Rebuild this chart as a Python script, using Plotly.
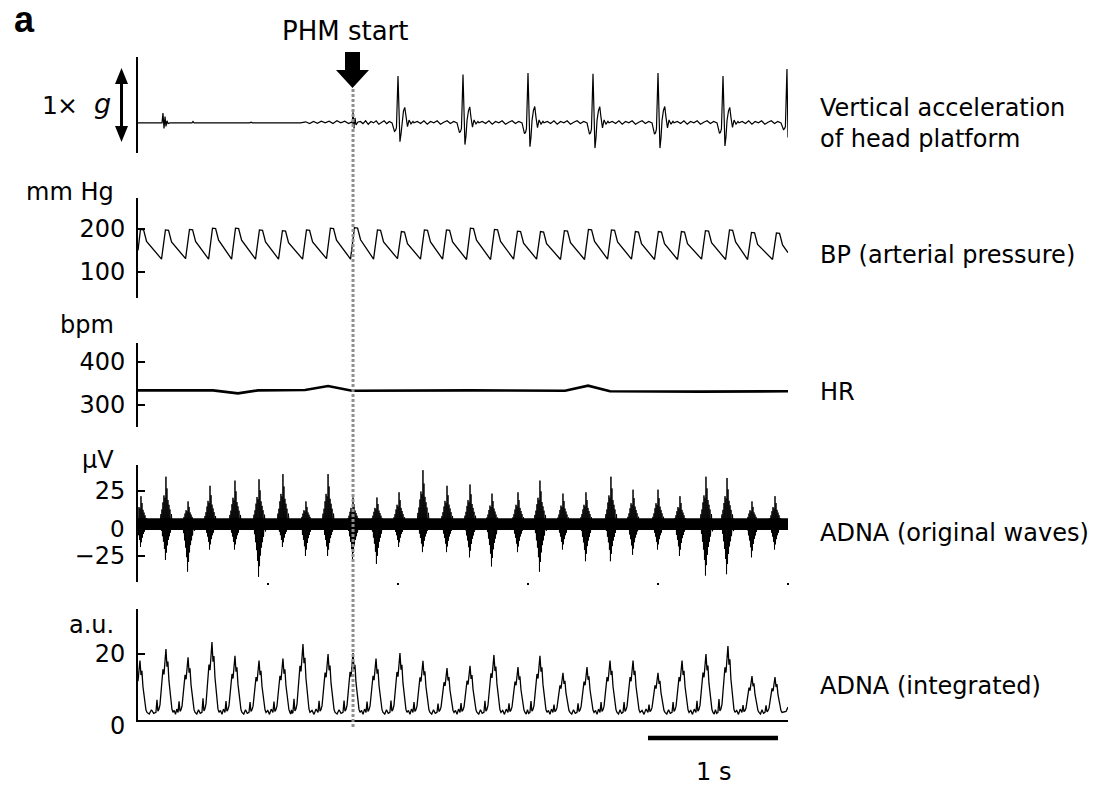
import plotly.graph_objects as go

W, H = 1096, 785
FONT = "DejaVu Sans"
FS = 24

# ======================= DATA (time in s) =======================
T_END = 5.0            # length of record shown (s)
PHM_START = 1.654      # PHM start marker (s)
SCALE_BAR_START = 3.923
SCALE_BAR_LEN = 1.0    # 1 s

# ---- Vertical acceleration of head platform (g) ----
accel_pre_t = [0.000, 0.185, 0.192, 0.200, 0.208, 0.215, 0.223, 0.231, 0.246, 0.415,
               0.423, 0.431, 0.860, 0.870, 0.880, 1.250, 1.290, 1.320, 1.350, 1.380,
               1.410, 1.440, 1.470, 1.500, 1.530, 1.560, 1.590, 1.620, 1.640, 1.648,
               1.654, 1.662, 1.669, 1.677, 1.690]
accel_pre_v = [0.00, 0.00, 0.14, -0.08, 0.09, -0.05, 0.03, -0.01, 0.00, 0.00,
               0.02, 0.00, 0.00, 0.01, 0.00, 0.00, 0.015, -0.01, 0.02, -0.005,
               0.025, 0.00, 0.025, -0.01, 0.03, 0.00, 0.025, -0.01, 0.01, 0.00,
               0.15, -0.08, 0.07, -0.03, 0.01]
accel_spike_t = [2.000, 2.500, 3.000, 3.500, 4.000, 4.500, 4.992]
accel_spike_up = [0.67, 0.69, 0.71, 0.70, 0.71, 0.67, 0.77]
accel_spike_down = [-0.27, -0.31, -0.34, -0.36, -0.36, -0.33, -0.21]
accel_ripple = [0.02, -0.01, 0.03, -0.02, 0.02, 0.00, 0.03, -0.02, 0.01, 0.03, -0.01, 0.02]
accel_end_v = -0.21

# ---- BP (arterial pressure, mm Hg) ----
bp_peak_t = [0.031, 0.223, 0.408, 0.585, 0.762, 0.946, 1.123, 1.308, 1.492, 1.677,
             1.854, 2.038, 2.215, 2.385, 2.569, 2.754, 2.931, 3.108, 3.292, 3.477,
             3.654, 3.838, 4.015, 4.192, 4.377, 4.562, 4.731, 4.923]
bp_peak = [199, 198, 199, 202, 202, 198, 196, 198, 202, 203,
           198, 194, 198, 198, 202, 199, 195, 194, 196, 199,
           198, 194, 194, 194, 196, 198, 192, 191]
bp_trough = [150, 130, 131, 130, 130, 130, 130, 130, 131, 130,   # first = value at t=0
             130, 131, 130, 130, 129, 129, 130, 130, 129, 129,
             130, 130, 129, 129, 130, 129, 129, 129]
bp_notch_drop = 28
bp_end_v = 145

# ---- HR (bpm) ----
hr_t = [0.000, 0.577, 0.769, 0.923, 1.285, 1.462, 1.646, 2.015, 2.554, 3.285, 3.462, 3.631, 4.323, 5.000]
hr_v = [334, 334, 327, 334, 335, 344, 333, 334, 334, 333, 345, 332, 331, 332]

# ---- ADNA original waves (uV) ----
adna_t = [0.023, 0.215, 0.385, 0.554, 0.746, 0.931, 1.115, 1.292, 1.462, 1.654,
          1.838, 2.008, 2.192, 2.377, 2.554, 2.723, 2.923, 3.092, 3.269, 3.446,
          3.638, 3.808, 4.000, 4.169, 4.369, 4.531, 4.723, 4.900]
adna_up = [21, 36, 17, 29, 33, 34, 38, 17, 38, 20,
           20, 24, 41, 29, 30, 23, 24, 33, 23, 24,
           36, 26, 26, 21, 36, 35, 17, 21]
adna_down = [-18, -28, -37, -20, -20, -41, -18, -25, -25, -28,
             -31, -18, -22, -22, -26, -33, -22, -37, -20, -29,
             -29, -24, -20, -25, -40, -39, -26, -20]
adna_noise_hi = 4.0
adna_noise_lo = -5.0

# ---- ADNA integrated (a.u.) ----
int_t = [0.015, 0.215, 0.385, 0.569, 0.746, 0.931, 1.115, 1.269, 1.462, 1.654,
         1.831, 2.015, 2.192, 2.377, 2.554, 2.738, 2.923, 3.092, 3.269, 3.454,
         3.631, 3.808, 4.000, 4.185, 4.369, 4.538, 4.723, 4.900]
int_peak = [18.0, 21.5, 19.0, 23.6, 19.4, 18.0, 18.6, 23.0, 20.0, 20.3,
            18.6, 20.3, 17.9, 15.7, 16.4, 19.7, 16.0, 19.4, 14.3, 16.0,
            18.0, 18.0, 14.3, 18.0, 20.0, 22.4, 13.3, 13.0]
int_base = 2.3
int_ripple = [1.8, 3.1, 2.0, 2.9, 1.7, 3.3]
int_tail_t = [4.985, 5.000]
int_tail_v = [2.6, 3.9]

# ======================= waveform shapes (per event) =======================
SPIKE_DT = [-0.046, -0.035, -0.027, -0.019, -0.012, 0.000, 0.008, 0.015, 0.023, 0.031,
            0.042, 0.052, 0.062, 0.073, 0.085, 0.100, 0.115, 0.123]
SPIKE_A = [0, 0, 0, 0, 0, 1, 0.3, 0, 0, 0.05, 0.25, 0.33, 0.1, 0, 0.06, 0, 0.03, 0]
SPIKE_B = [0, 0.2, 0.45, 0.4, 0.25, 0, 0, 1, 0.6, 0, 0, 0, 0, 0.2, 0, 0.05, 0, 0]

BURST_DT = [-0.045, -0.0385, -0.0346, -0.0308, -0.0269, -0.0231, -0.0192, -0.0154, -0.0115,
            -0.0077, -0.0038, 0.0, 0.0038, 0.0077, 0.0115, 0.0154, 0.0192, 0.0231, 0.0269,
            0.0308, 0.0346, 0.0423, 0.050, 0.057]
BURST_W = [0, 0.2, -0.2, 0.3, -0.35, 0.45, -0.5, 0.6, -0.7, 0.55, -1.0, 1.0, -0.8, 0.75,
           -0.6, 0.5, -0.45, 0.4, -0.35, 0.3, -0.25, 0.2, -0.15, 0]

IBURST_DT = [-0.077, -0.069, -0.062, -0.054, -0.046, -0.038, -0.031, -0.023, -0.015, -0.008,
             0.0, 0.008, 0.015, 0.023, 0.031, 0.038, 0.046, 0.054]
IBURST_W = [0.0, 0.2, 0.02, 0.05, 0.12, 0.3, 0.55, 0.68, 0.6, 0.88, 1.0, 0.72, 0.8, 0.5,
            0.3, 0.12, 0.05, 0.0]


def build_accel():
    xs, ys = list(accel_pre_t), list(accel_pre_v)
    prev_end = accel_pre_t[-1]
    for c, u, d in zip(accel_spike_t, accel_spike_up, accel_spike_down):
        start = c + SPIKE_DT[0]
        n = len(accel_ripple)
        for k in range(n):
            xs.append(prev_end + (k + 1) * (start - prev_end) / (n + 1))
            ys.append(accel_ripple[k])
        for dt, a, b in zip(SPIKE_DT, SPIKE_A, SPIKE_B):
            t = c + dt
            if t < T_END:
                xs.append(t)
                ys.append(a * u + b * d)
        prev_end = c + SPIKE_DT[-1]
    xs.append(T_END)
    ys.append(accel_end_v)
    return xs, ys


def build_bp():
    xs, ys = [0.0], [bp_trough[0]]
    for i, (c, p) in enumerate(zip(bp_peak_t, bp_peak)):
        if i > 0:
            xs.append(c - 0.042); ys.append(bp_trough[i])
        xs += [c - 0.012, c + 0.012, c + 0.035]
        ys += [p, p - 1, p - bp_notch_drop]
    xs.append(T_END); ys.append(bp_end_v)
    return xs, ys


def build_adna():
    xs, ys = [0.0], [0.0]
    for c, u, d in zip(adna_t, adna_up, adna_down):
        for dt, w in zip(BURST_DT, BURST_W):
            t = c + dt
            if 0 <= t <= T_END:
                xs.append(t)
                ys.append(w * u if w > 0 else -w * d)
    xs.append(T_END); ys.append(0.0)
    return xs, ys


def build_int():
    xs, ys = [], []
    n = len(int_t)
    for i, (c, p) in enumerate(zip(int_t, int_peak)):
        for dt, w in zip(IBURST_DT, IBURST_W):
            t = c + dt
            if 0 <= t <= T_END:
                xs.append(t)
                ys.append(int_base + w * (p - int_base))
        if i < n - 1:
            a = c + IBURST_DT[-1]
            b = int_t[i + 1] + IBURST_DT[0]
            for k in range(3):
                xs.append(a + (k + 1) * (b - a) / 4)
                ys.append(int_ripple[(3 * i + k) % len(int_ripple)])
    xs += int_tail_t
    ys += int_tail_v
    return xs, ys


# ======================= FIGURE =======================
fig = go.Figure()
# empty trace so the tick-only axis under the ADNA panel is created (added first, drawn below)
fig.add_trace(go.Scatter(x=[], y=[], xaxis="x2", yaxis="y4", hoverinfo="skip"))
ax, ay = build_accel()
fig.add_trace(go.Scatter(x=ax, y=ay, mode="lines", line=dict(color="black", width=1.2),
                         xaxis="x", yaxis="y", hoverinfo="skip"))
bx, by = build_bp()
fig.add_trace(go.Scatter(x=bx, y=by, mode="lines", line=dict(color="black", width=1.3),
                         xaxis="x", yaxis="y2", hoverinfo="skip"))
fig.add_trace(go.Scatter(x=hr_t, y=hr_v, mode="lines", line=dict(color="black", width=2.6),
                         xaxis="x", yaxis="y3", hoverinfo="skip"))
fig.add_trace(go.Scatter(x=[0, T_END, T_END, 0, 0],
                         y=[adna_noise_lo, adna_noise_lo, adna_noise_hi, adna_noise_hi, adna_noise_lo],
                         mode="lines", fill="toself", fillcolor="black", line=dict(width=0, color="black"),
                         xaxis="x", yaxis="y4", hoverinfo="skip"))
dx, dy = build_adna()
fig.add_trace(go.Scatter(x=dx, y=dy, mode="lines", line=dict(color="black", width=1.0),
                         xaxis="x", yaxis="y4", hoverinfo="skip"))
ix, iy = build_int()
fig.add_trace(go.Scatter(x=ix, y=iy, mode="lines", line=dict(color="black", width=1.3),
                         xaxis="x", yaxis="y5", hoverinfo="skip"))


def px_x(px):
    return px / W


def px_y(py):
    return 1 - py / H


XD = [px_x(138), px_x(788)]


def ydom(top, bottom):
    return [px_y(bottom), px_y(top)]


yax = dict(showline=True, linecolor="black", linewidth=2, ticks="inside", ticklen=7,
           tickwidth=2, tickcolor="black", showgrid=False, zeroline=False,
           tickfont=dict(family=FONT, size=FS, color="black"), ticklabelstandoff=6,
           automargin=False, anchor="x", fixedrange=True)

fig.update_layout(
    width=W, height=H, autosize=False,
    margin=dict(l=0, r=0, t=0, b=0, pad=0, autoexpand=False),
    paper_bgcolor="white", plot_bgcolor="rgba(0,0,0,0)",
    showlegend=False,
    font=dict(family=FONT, size=FS, color="black"),
    xaxis=dict(domain=XD, range=[0, T_END], anchor="y5", showline=True, linecolor="black",
               linewidth=2, ticks="", showticklabels=False, showgrid=False, zeroline=False,
               automargin=False, fixedrange=True),
    xaxis2=dict(domain=XD, range=[0, T_END], anchor="y4", showline=False, ticks="outside",
                ticklen=2, tickwidth=1.5, tickcolor="black", tickvals=[1, 2, 3, 4, 5],
                showticklabels=False, showgrid=False, zeroline=False, automargin=False,
                fixedrange=True),
    yaxis=dict(yax, domain=ydom(57, 153), range=[-0.43, 0.94], tickvals=[-0.43],
               showticklabels=False),
    yaxis2=dict(yax, domain=ydom(198, 298), range=[39.5, 272.1], tickvals=[100, 200]),
    yaxis3=dict(yax, domain=ydom(343, 427), range=[248.8, 444.2], tickvals=[300, 400]),
    yaxis4=dict(yax, domain=ydom(465, 582), range=[-45, 45], tickvals=[-25, 25],
                ticktext=["\u221225", "25"]),
    yaxis5=dict(yax, domain=ydom(609, 720), range=[0, 33.6], tickvals=[20]),
)


def path(points):
    s = "M " + " L ".join(f"{px_x(a):.5f},{px_y(b):.5f}" for a, b in points) + " Z"
    return s


shapes = [
    # PHM start dotted marker
    dict(type="line", xref="x", yref="paper", x0=PHM_START, x1=PHM_START,
         y0=px_y(727), y1=px_y(88), line=dict(color="#8f8f8f", width=3, dash="3px,2px"),
         layer="above"),
    # PHM start block arrow
    dict(type="path", xref="paper", yref="paper",
         path=path([(345, 52), (360, 52), (360, 70), (369, 70), (352.5, 88), (336, 70), (345, 70)]),
         fillcolor="black", line=dict(width=0, color="black"), layer="above"),
    # 1 x g double arrow
    dict(type="line", xref="paper", yref="paper", x0=px_x(121.5), x1=px_x(121.5),
         y0=px_y(80), y1=px_y(130), line=dict(color="black", width=3)),
    dict(type="path", xref="paper", yref="paper",
         path=path([(115, 84), (128, 84), (121.5, 68)]),
         fillcolor="black", line=dict(width=0, color="black")),
    dict(type="path", xref="paper", yref="paper",
         path=path([(115, 126), (128, 126), (121.5, 142)]),
         fillcolor="black", line=dict(width=0, color="black")),
    # 1 s scale bar
    dict(type="line", xref="x", yref="paper", x0=SCALE_BAR_START,
         x1=SCALE_BAR_START + SCALE_BAR_LEN, y0=px_y(738), y1=px_y(738),
         line=dict(color="black", width=4.5)),
]
fig.update_layout(shapes=shapes)


def ann(text, x, y, xanchor="left", size=FS, family=FONT, bold=False):
    return dict(text=(f"<b>{text}</b>" if bold else text), x=px_x(x), y=px_y(y),
                xref="paper", yref="paper", xanchor=xanchor, yanchor="middle",
                showarrow=False, font=dict(family=family, size=size, color="black"))


annotations = [
    ann("a", 12, 20, "left", size=36, family="Liberation Sans", bold=True),
    ann("PHM start", 345, 31, "center", size=26),
    ann("1", 50, 106, "center", size=25),
    ann("\u00d7", 67, 106, "center", size=25),
    ann("<i>g</i>", 102, 104, "center", size=27),
    ann("mm Hg", 116, 192, "right"),
    ann("bpm", 116, 325, "right"),
    ann("\u03bcV", 116, 460, "right"),
    ann("a.u.", 116, 625, "right"),
    ann("0", 127, 529, "right", size=23),
    ann("0", 127, 726, "right"),
    ann("Vertical acceleration", 818, 108, "left"),
    ann("of head platform", 818, 139, "left"),
    ann("BP (arterial pressure)", 818, 255, "left"),
    ann("HR", 818, 392, "left"),
    ann("ADNA (original waves)", 818, 533, "left"),
    ann("ADNA (integrated)", 818, 686, "left"),
    ann("1 s", 713, 772, "center"),
]
fig.update_layout(annotations=annotations)

fig.write_html("out.html")
